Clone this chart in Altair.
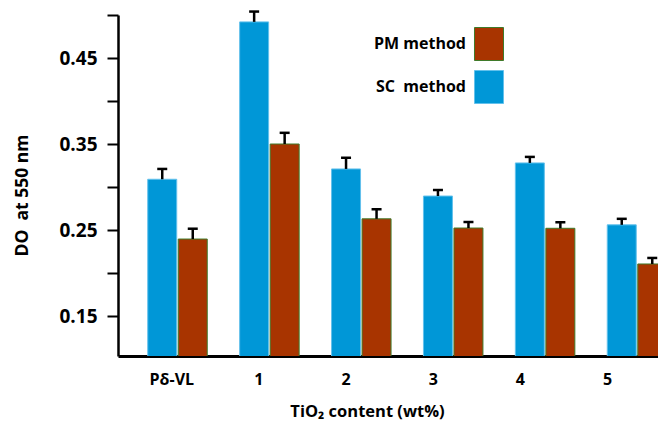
import altair as alt
import pandas as pd

groups = ["Pδ-VL", "1", "2", "3", "4", "5"]
methods = ["SC method", "PM method"]
sc_values = [0.309, 0.492, 0.321, 0.2895, 0.328, 0.256]
sc_errors = [0.012, 0.012, 0.013, 0.007, 0.007, 0.007]
pm_values = [0.2395, 0.350, 0.263, 0.2523, 0.252, 0.2105]
pm_errors = [0.012, 0.013, 0.011, 0.007, 0.007, 0.007]
y_ticks = [0.15, 0.20, 0.25, 0.30, 0.35, 0.40, 0.45, 0.50]
y_labels = ["0.15", "0.25", "0.35", "0.45"]

rows = []
for g, v, e in zip(groups, sc_values, sc_errors):
    rows.append({"group": g, "method": "SC method", "value": v, "upper": v + e})
for g, v, e in zip(groups, pm_values, pm_errors):
    rows.append({"group": g, "method": "PM method", "value": v, "upper": v + e})
df = pd.DataFrame(rows)
labels_df = pd.DataFrame({"group": groups})

FONT = "Open Sans"
BLUE = "#0097d7"
BROWN = "#a83400"

x_enc = alt.X("group:N", sort=groups,
              scale=alt.Scale(domain=groups, range=[0, 578.5],
                              paddingInner=0.3526, paddingOuter=0.3237),
              axis=alt.Axis(title="TiO₂ content (wt%)", labels=False, ticks=False,
                            domainColor="black", domainWidth=3,
                            titleFont=FONT, titleFontSize=16.5, titleFontWeight="bold",
                            titleColor="black", titleX=249, titleY=55,
                            titleBaseline="middle"))
xoff = alt.XOffset("method:N", sort=methods,
                   scale=alt.Scale(domain=methods, paddingInner=0.05))
y_scale = alt.Scale(domain=[0.1035, 0.5], nice=False, zero=False)
y_enc = alt.Y("value:Q", scale=y_scale,
              axis=alt.Axis(title="DO\u00a0 at 550 nm", values=y_ticks,
                            labelExpr="indexof(" + str(y_labels) + ", format(datum.value, '.2f')) >= 0 ? format(datum.value, '.2f') : ''",
                            grid=False, domainColor="black", domainWidth=2.5,
                            tickColor="black", tickWidth=2, tickSize=11,
                            labelFont=FONT, labelFontSize=19, labelFontWeight="bold",
                            labelColor="black", labelPadding=10,
                            titleFont=FONT, titleFontSize=17.5, titleFontWeight="bold",
                            titleColor="black", titleX=-96, titleY=180,
                            titleBaseline="middle"))

legend = alt.Legend(title=None, orient="none", legendX=314, legendY=12,
                    symbolType="M1.545,-1H3.303V1H1.545Z", symbolSize=1089,
                    symbolStrokeWidth=1, symbolOffset=0,
                    labelAlign="right", labelOffset=0,
                    labelExpr="datum.label == 'SC method' ? 'SC\u00a0 method' : datum.label",
                    labelFont=FONT, labelFontSize=16, labelFontWeight="bold",
                    labelColor="black", rowPadding=5, padding=0)

color_enc = alt.Color("method:N",
                      scale=alt.Scale(domain=["PM method", "SC method"], range=[BROWN, BLUE]),
                      legend=legend)
stroke_enc = alt.Stroke("method:N",
                        scale=alt.Scale(domain=["PM method", "SC method"], range=["#3f7a2a", "#63c1ec"]),
                        legend=legend)

bars = alt.Chart(df).mark_bar(strokeWidth=1, clip=True).encode(
    x=x_enc, xOffset=xoff, y=y_enc, color=color_enc, stroke=stroke_enc)

rules = alt.Chart(df).mark_rule(color="black", strokeWidth=2.5).encode(
    x=x_enc, xOffset=xoff, y="value:Q", y2="upper:Q")

caps = alt.Chart(df).mark_tick(color="black", thickness=2.5, size=10, opacity=1).encode(
    x=x_enc, xOffset=xoff, y="upper:Q")

texts = alt.Chart(labels_df).mark_text(font=FONT, fontSize=16, fontWeight="bold",
                                       color="black", baseline="middle").encode(
    x=alt.X("group:N", sort=groups,
            scale=alt.Scale(type="point", domain=groups, range=[53.8, 489.5], padding=0),
            axis=None),
    y=alt.value(365),
    text="group:N")

chart = alt.layer(alt.layer(bars, rules, caps), texts).resolve_scale(
    x="independent"
).properties(
    width=540, height=341,
    padding={"left": 118, "top": 15, "right": 0, "bottom": 76},
    autosize=alt.AutoSizeParams(type="none"),
    background="white",
).configure_view(stroke=None)

chart.save("out.html", embed_options={"renderer": "svg", "actions": False})
